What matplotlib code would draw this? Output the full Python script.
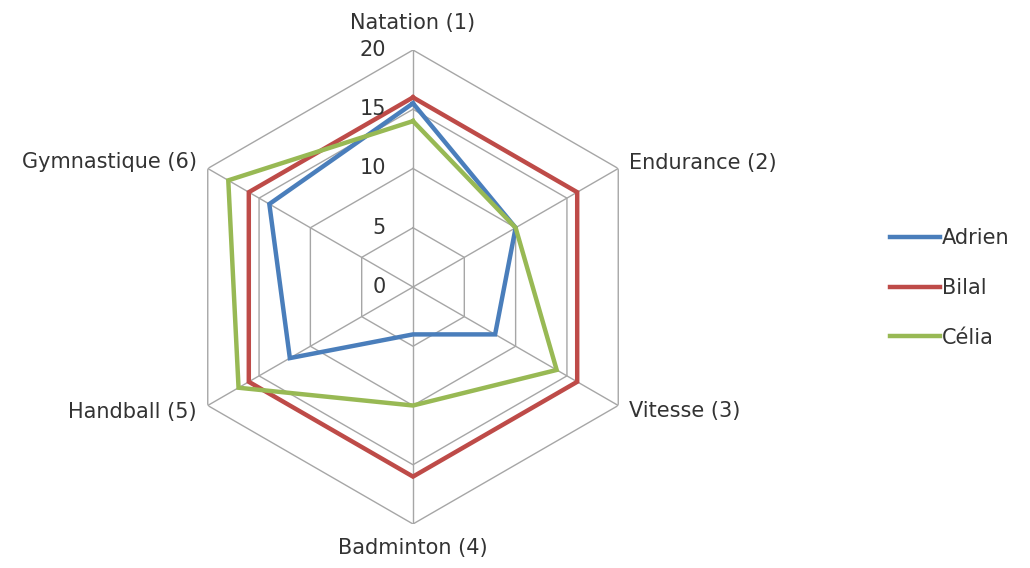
import numpy as np
import matplotlib
matplotlib.use("Agg")
import matplotlib.pyplot as plt
from matplotlib.transforms import offset_copy
from matplotlib.lines import Line2D

categories = ["Natation (1)", "Endurance (2)", "Vitesse (3)",
              "Badminton (4)", "Handball (5)", "Gymnastique (6)"]
adrien = [15.5, 10, 8, 4, 12, 14]
bilal = [16, 16, 16, 16, 16, 16]
celia = [14, 10, 14, 10, 17, 18]
series_names = ["Adrien", "Bilal", "Célia"]
radial_ticks = [0, 5, 10, 15, 20]

colors = ["#4A7EBB", "#BE4B48", "#98B954"]
grid_color = "#A6A6A6"
text_color = "#333333"
plt.rcParams['font.family'] = ['DejaVu Sans']
FS = 15

fig = plt.figure(figsize=(10.30, 5.68), dpi=100)
cx, cy, R = 413, 287, 237
W, H = 1030, 568
ax = fig.add_axes([(cx - R) / W, (H - cy - R) / H, 2 * R / W, 2 * R / H], projection="polar")
ax.set_theta_offset(np.pi / 2)
ax.set_theta_direction(-1)
ax.set_ylim(0, 20)
ax.grid(False)
ax.spines["polar"].set_visible(False)
ax.set_xticks([])
ax.set_yticks([])
ax.patch.set_alpha(0)

n = len(categories)
angles = np.arange(n) * 2 * np.pi / n
closed = np.concatenate([angles, angles[:1]])

# hexagonal grid
for r in radial_ticks[1:]:
    ax.plot(closed, [r] * (n + 1), color=grid_color, lw=1.0, zorder=1)
for a in angles:
    ax.plot([a, a], [0, 20], color=grid_color, lw=1.0, zorder=1)

for vals, c in zip([adrien, bilal, celia], colors):
    v = list(vals) + [vals[0]]
    ax.plot(closed, v, color=c, lw=3.2, zorder=3, solid_joinstyle="miter")

# radial tick labels
tr = offset_copy(ax.transData, fig=fig, x=-27, y=0, units="dots")
for r in radial_ticks:
    ax.text(0, r, str(r), transform=tr, ha="right", va="center",
            fontsize=FS, color=text_color, clip_on=False)

# category labels
offs = [(0, 21, "center", "baseline"), (11, 6, "left", "center"), (11, -6, "left", "center"),
        (0, -14, "center", "top"), (-11, -6, "right", "center"), (-11, 6, "right", "center")]
for a, lab, (dx, dy, ha, va) in zip(angles, categories, offs):
    t = offset_copy(ax.transData, fig=fig, x=dx, y=dy, units="dots")
    ax.text(a, 20, lab, transform=t, ha=ha, va=va, fontsize=FS, color=text_color, clip_on=False)

handles = [Line2D([], [], color=c, lw=3.2) for c in colors]
fig.legend(handles, series_names, loc="center left", bbox_to_anchor=(871 / W, 1 - 288 / H),
           frameon=False, fontsize=FS, handlelength=2.4, handletextpad=0.1,
           labelspacing=1.43, labelcolor=text_color)

fig.savefig("out.png", dpi=100)
